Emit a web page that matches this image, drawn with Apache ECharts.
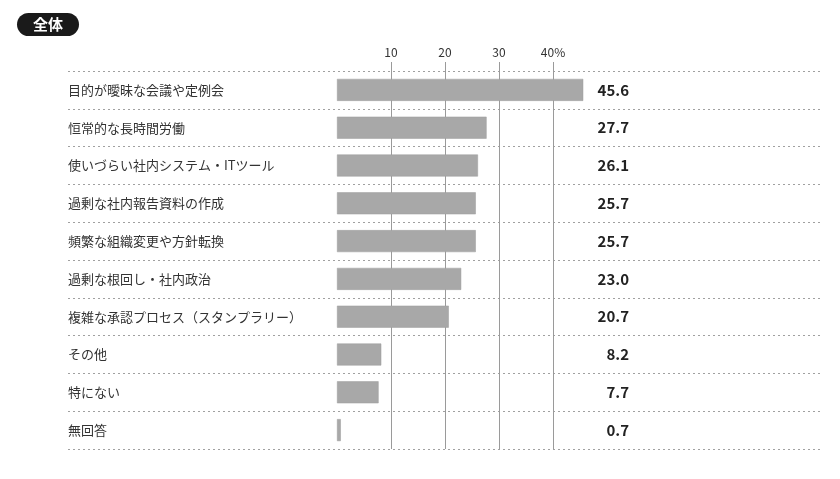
<!DOCTYPE html>
<html>
<head>
<meta charset="utf-8">
<script src="https://cdn.jsdelivr.net/npm/echarts@6/dist/echarts.min.js"></script>
<style>
  html, body { margin: 0; padding: 0; background: #fff; }
  #main { width: 840px; height: 479px; }
</style>
</head>
<body>
<div id="main"></div>
<script>
var categories = [
  '目的が曖昧な会議や定例会',
  '恒常的な長時間労働',
  '使いづらい社内システム・ITツール',
  '過剰な社内報告資料の作成',
  '頻繁な組織変更や方針転換',
  '過剰な根回し・社内政治',
  '複雑な承認プロセス（スタンプラリー）',
  'その他',
  '特にない',
  '無回答'
];
var values = [45.6, 27.7, 26.1, 25.7, 25.7, 23.0, 20.7, 8.2, 7.7, 0.7];
var tickLabels = { 10: '10', 20: '20', 30: '30', 40: '40%' };

var font = '"Noto Sans CJK JP", "Noto Sans", sans-serif';
var chart = echarts.init(document.getElementById('main'));

var option = {
  animation: false,
  title: {
    text: '全体',
    left: 17,
    top: 13,
    padding: [4, 16, 4, 16],
    backgroundColor: '#1a1a1a',
    borderRadius: 13,
    textStyle: { color: '#fff', fontSize: 15, fontWeight: 'bold', fontFamily: font }
  },
  grid: [
    // dotted row lines + category labels
    { left: 68, right: 17, top: 71, bottom: 30 },
    // bars
    { left: 337, right: 233, top: 71, bottom: 30 },
    // vertical scale lines + top tick labels
    { left: 337, right: 233, top: 62, bottom: 30 }
  ],
  xAxis: [
    { gridIndex: 0, type: 'value', min: 0, max: 1, show: false },
    { gridIndex: 1, type: 'value', min: 0, max: 50, show: false },
    {
      gridIndex: 2, type: 'value', min: 0, max: 50, interval: 10, position: 'top',
      axisLine: { show: false }, axisTick: { show: false },
      axisLabel: {
        margin: 4, color: '#333', fontSize: 12, fontFamily: font,
        formatter: function (v) { return tickLabels[v] || ''; }
      },
      splitLine: {
        show: true,
        lineStyle: { color: ['rgba(0,0,0,0)', '#9a9a9a', '#9a9a9a', '#9a9a9a', '#9a9a9a', 'rgba(0,0,0,0)'], width: 1 }
      }
    }
  ],
  yAxis: [
    {
      gridIndex: 0, type: 'category', data: categories, inverse: true,
      axisLine: { show: false }, axisTick: { show: false },
      axisLabel: { inside: true, margin: 0, color: '#333', fontSize: 13, fontFamily: font },
      splitLine: { show: true, lineStyle: { color: '#a0a0a0', type: [2, 3], width: 1.2 } }
    },
    {
      gridIndex: 1, type: 'category', data: categories, inverse: true, show: false
    },
    {
      gridIndex: 1, type: 'category', inverse: true, position: 'right',
      data: values.map(function (v) { return v.toFixed(1); }),
      axisLine: { show: false }, axisTick: { show: false },
      axisLabel: { align: 'right', margin: 22, color: '#222', fontSize: 15, fontWeight: 'bold', fontFamily: font }
    },
    { gridIndex: 2, type: 'category', data: [''], show: false }
  ],
  series: [
    {
      type: 'bar',
      xAxisIndex: 1,
      yAxisIndex: 1,
      data: values,
      barWidth: 22,
      z: 5,
      itemStyle: { color: '#a8a8a8', borderColor: '#9d9d9d', borderWidth: 0.5 }
    }
  ]
};
chart.setOption(option);
</script>
</body>
</html>
